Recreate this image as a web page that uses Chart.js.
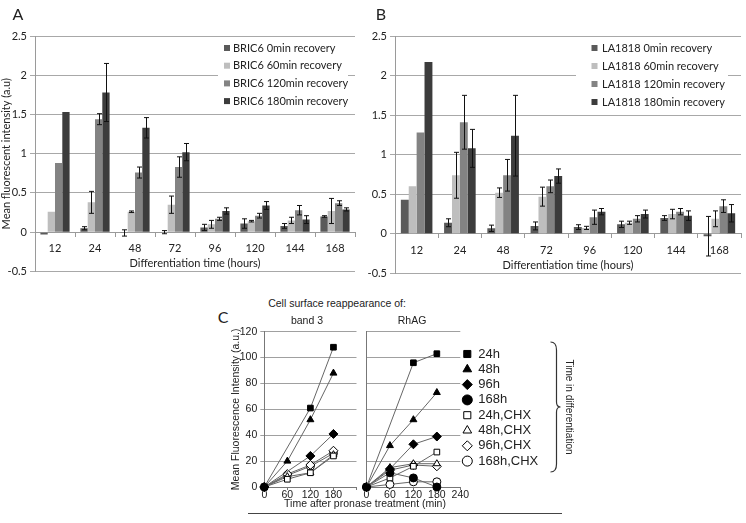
<!DOCTYPE html>
<html lang="en">
  <head>
    <meta charset="UTF-8" />
    <script src="https://cdn.jsdelivr.net/npm/chart.js"></script>
    <title>Surface reappearance</title>
    <style>
      body { margin: 0; background: #fff; width: 746px; height: 523px; position: relative; overflow: hidden; }
      .box { position: absolute; }
      .txt { position: absolute; white-space: nowrap; color: #222; transform: translate(-50%, -50%); line-height: 1; }
      .ab { font-family: Lato, sans-serif; font-size: 16px; }
      .c { font-family: "Liberation Sans", Arial, sans-serif; font-size: 10.5px; }
    </style>
  </head>
  <body>
    <div class="box" style="left:0;top:0;width:365px;height:281px"><canvas id="chartA"></canvas></div>
    <div class="box" style="left:365px;top:0;width:381px;height:283px"><canvas id="chartB"></canvas></div>
    <div class="box" style="left:230px;top:320px;width:132px;height:187px"><canvas id="chartC1"></canvas></div>
    <div class="box" style="left:360.7px;top:320px;width:215px;height:187px"><canvas id="chartC2"></canvas></div>

    <div class="txt ab" style="left:18px;top:14px">A</div>
    <div class="txt ab" style="left:381px;top:14px">B</div>
    <div class="txt ab" style="left:223px;top:317px">C</div>
    <div class="txt c" style="left:337px;top:303px">Cell surface reappearance of:</div>
    <div class="txt c" style="left:307px;top:320px">band 3</div>
    <div class="txt c" style="left:412px;top:320px">RhAG</div>
    <div class="txt c" style="left:365px;top:503px">Time after pronase treatment (min)</div>
    <div class="box" style="left:248px;top:513px;width:314px;height:0;border-top:1.5px solid #444"></div>

    <script>
      // panels A and B: differentiation time categories
      const categories = ["12", "24", "48", "72", "96", "120", "144", "168"];
      const recovery = ["0min", "60min", "120min", "180min"];

      const bric0 = [-0.03, 0.05, -0.01, 0.0, 0.06, 0.11, 0.08, 0.2];
      const bric60 = [0.26, 0.38, 0.26, 0.35, 0.1, 0.14, 0.15, 0.27];
      const bric120 = [0.88, 1.44, 0.76, 0.83, 0.17, 0.21, 0.28, 0.37];
      const bric180 = [1.53, 1.78, 1.33, 1.02, 0.27, 0.34, 0.16, 0.29];
      const bric0Err = [0, 0.02, 0.04, 0.02, 0.04, 0.06, 0.03, 0.01];
      const bric60Err = [0, 0.14, 0.01, 0.11, 0.05, 0.01, 0.04, 0.16];
      const bric120Err = [0, 0.07, 0.07, 0.13, 0.02, 0.03, 0.06, 0.03];
      const bric180Err = [0, 0.37, 0.13, 0.11, 0.04, 0.05, 0.05, 0.02];

      const la0 = [0.43, 0.14, 0.07, 0.1, 0.085, 0.12, 0.2, -0.03];
      const la60 = [0.6, 0.74, 0.52, 0.47, 0.075, 0.14, 0.25, 0.19];
      const la120 = [1.28, 1.41, 0.74, 0.6, 0.21, 0.19, 0.28, 0.35];
      const la180 = [2.17, 1.08, 1.24, 0.73, 0.28, 0.25, 0.23, 0.26];
      const la0Err = [0, 0.05, 0.04, 0.05, 0.03, 0.04, 0.03, 0.25];
      const la60Err = [0, 0.29, 0.06, 0.12, 0.02, 0.02, 0.06, 0.1];
      const la120Err = [0, 0.34, 0.2, 0.08, 0.09, 0.04, 0.04, 0.08];
      const la180Err = [0, 0.24, 0.51, 0.09, 0.04, 0.05, 0.06, 0.11];

      // panel C: minutes after pronase
      const cTimes = [0, 60, 120, 180];
      const cLabels = ["24h", "48h", "96h", "168h", "24h,CHX", "48h,CHX", "96h,CHX", "168h,CHX"];

      const band3_24h = [0, null, 61, 108];
      const band3_48h = [0, 20, 52, 88];
      const band3_96h = [0, null, 24, 41];
      const band3_168h = [null, null, null, null];
      const band3_24hCHX = [0, 6, 11, 24];
      const band3_48hCHX = [0, 8, 11, 25];
      const band3_96hCHX = [0, 10, 17, 28];
      const band3_168hCHX = [0, 9, 16, 26];

      const rhag_24h = [0, null, 96, 103];
      const rhag_48h = [0, 32, 52, 73];
      const rhag_96h = [0, 14, 33, 39];
      const rhag_168h = [0, 11, 7, 0];
      const rhag_24hCHX = [0, 7, 16, 27];
      const rhag_48hCHX = [0, 15, 18, 18];
      const rhag_96hCHX = [0, 13, 17, 16];
      const rhag_168hCHX = [0, 2, 4, 4];

      const barColors = ["#5a5a5a", "#bebebe", "#838383", "#3c3c3c"];
      const pointStyles = ["rect", "triangle", "rectRot", "circle", "rect", "triangle", "rectRot", "circle"];

      Chart.defaults.font.family = "Lato, sans-serif";
      Chart.defaults.color = "#222";
      Chart.defaults.animation = false;

      // error bars drawn from the y scale
      const errorBars = {
        id: "errorBars",
        afterDatasetsDraw(chart) {
          const ctx = chart.ctx;
          const y = chart.scales.y;
          chart.data.datasets.forEach((ds, di) => {
            if (!ds.errors) return;
            chart.getDatasetMeta(di).data.forEach((bar, i) => {
              const e = ds.errors[i];
              if (!e) return;
              const v = ds.data[i];
              const t = y.getPixelForValue(v + e);
              const b = y.getPixelForValue(v - e);
              const x = Math.round(bar.x) + 0.5;
              ctx.save();
              ctx.strokeStyle = "#111";
              ctx.lineWidth = 1;
              ctx.beginPath();
              ctx.moveTo(x, t); ctx.lineTo(x, b);
              ctx.moveTo(x - 2.5, t); ctx.lineTo(x + 2.5, t);
              ctx.moveTo(x - 2.5, b); ctx.lineTo(x + 2.5, b);
              ctx.stroke();
              ctx.restore();
            });
          });
        },
      };

      // legend in a white box, placed in canvas pixels
      const boxLegend = {
        id: "boxLegend",
        afterDatasetsDraw(chart, args, o) {
          if (!o || o.markX === undefined) return;
          const ctx = chart.ctx;
          ctx.save();
          if (o.w) {
            ctx.fillStyle = "#fff";
            ctx.fillRect(o.x, o.y, o.w, o.h);
          }
          ctx.font = o.font;
          ctx.textBaseline = "middle";
          chart.data.datasets.forEach((ds, i) => {
            const cy = o.rowY + i * o.rowH;
            if (o.kind === "bar") {
              ctx.fillStyle = ds.backgroundColor;
              ctx.fillRect(o.markX - 3, cy - 3, 6, 6);
            } else {
              ctx.fillStyle = ds.pointBackgroundColor;
              ctx.strokeStyle = "#000";
              ctx.lineWidth = 1;
              Chart.helpers.drawPoint(ctx, { pointStyle: ds.pointStyle, radius: o.radius, rotation: 0, borderWidth: 1 }, o.markX, cy);
            }
            ctx.fillStyle = "#222";
            ctx.fillText(ds.label, o.textX, cy);
          });
          ctx.restore();
        },
      };

      // brace + rotated caption next to the C legend
      const brace = {
        id: "brace",
        afterDraw(chart, args, o) {
          if (!o || o.x === undefined) return;
          const ctx = chart.ctx;
          const { x, top, bottom } = o;
          const mid = (top + bottom) / 2;
          ctx.save();
          ctx.strokeStyle = "#333";
          ctx.lineWidth = 1.2;
          ctx.beginPath();
          ctx.moveTo(x, top);
          ctx.quadraticCurveTo(x + 6, top, x + 6, top + 8);
          ctx.lineTo(x + 6, mid - 5);
          ctx.quadraticCurveTo(x + 6, mid, x + 10, mid);
          ctx.quadraticCurveTo(x + 6, mid, x + 6, mid + 5);
          ctx.lineTo(x + 6, bottom - 8);
          ctx.quadraticCurveTo(x + 6, bottom, x, bottom);
          ctx.stroke();
          ctx.translate(o.textX, mid);
          ctx.rotate(Math.PI / 2);
          ctx.font = o.font;
          ctx.fillStyle = "#222";
          ctx.textAlign = "center";
          ctx.textBaseline = "middle";
          ctx.fillText(o.text, 0, 0);
          ctx.restore();
        },
      };

      function makeBars(id, prefix, sets, errs, o) {
        return new Chart(document.getElementById(id), {
          type: "bar",
          data: {
            labels: categories,
            datasets: sets.map((d, i) => ({
              label: prefix + " " + recovery[i] + " recovery",
              data: d,
              errors: errs[i],
              backgroundColor: barColors[i],
              categoryPercentage: 0.73,
              barPercentage: 1,
            })),
          },
          options: {
            responsive: true,
            maintainAspectRatio: false,
            layout: { padding: { top: 36, left: 0, right: o.padRight, bottom: 0 } },
            plugins: { legend: { display: false }, tooltip: { enabled: false }, boxLegend: o.legend },
            scales: {
              x: {
                position: { y: 0 },
                grid: { drawOnChartArea: false, tickLength: 4, color: "#9a9a9a" },
                border: { color: "#9a9a9a" },
                ticks: { padding: 6, font: { size: 11 } },
                title: { display: true, text: "Differentiation time (hours)", padding: 0, font: { size: 11 } },
                afterFit: (s) => { s.height = 38; },
              },
              y: {
                min: -0.5,
                max: 2.5,
                ticks: { stepSize: 0.5, padding: 3, font: { size: 11 }, callback: (v) => String(Math.round(v * 10) / 10) },
                grid: { color: "#a8a8a8", tickLength: 5 },
                border: { color: "#9a9a9a" },
                title: { display: !!o.yTitle, text: o.yTitle || "", padding: 0, font: { size: 11 } },
                afterFit: (s) => { s.width = o.yWidth; },
              },
            },
          },
          plugins: [errorBars, boxLegend],
        });
      }

      makeBars("chartA", "BRIC6", [bric0, bric60, bric120, bric180], [bric0Err, bric60Err, bric120Err, bric180Err], {
        padRight: 10,
        yWidth: 35,
        yTitle: "Mean fluorescent intensity (a.u)",
        legend: { kind: "bar", x: 218, y: 40, w: 130, h: 70, markX: 227, textX: 233, rowY: 48, rowH: 17.7, font: "11px Lato" },
      });

      makeBars("chartB", "LA1818", [la0, la60, la120, la180], [la0Err, la60Err, la120Err, la180Err], {
        padRight: 5,
        yWidth: 30,
        legend: { kind: "bar", x: 211, y: 40, w: 152, h: 70, markX: 229.5, textX: 237, rowY: 48, rowH: 18, font: "11px Lato" },
      });

      function makeLines(id, sets, o) {
        return new Chart(document.getElementById(id), {
          type: "line",
          data: {
            datasets: sets.map((d, i) => ({
              label: cLabels[i],
              data: cTimes.map((t, j) => ({ x: t, y: d[j] })),
              borderColor: "#666",
              borderWidth: 1,
              pointStyle: pointStyles[i],
              pointRadius: pointStyles[i] === "rectRot" ? 4.5 : 4,
              pointBorderColor: "#000",
              pointBorderWidth: 1,
              pointBackgroundColor: i < 4 ? "#000" : "#fff",
              spanGaps: true,
              clip: false,
              tension: 0,
            })),
          },
          options: {
            responsive: true,
            maintainAspectRatio: false,
            layout: { padding: { top: 11.7, left: 0, right: o.padRight, bottom: 0 } },
            plugins: { legend: { display: false }, tooltip: { enabled: false }, boxLegend: o.legend || {}, brace: o.brace || {} },
            scales: {
              x: {
                type: "linear",
                min: 0,
                max: 240,
                grid: { drawOnChartArea: false, tickLength: 3, color: "#777" },
                border: { color: "#777" },
                ticks: {
                  stepSize: 60,
                  padding: -1,
                  maxRotation: 0,
                  autoSkip: false,
                  font: { family: "Liberation Sans", size: 10.5 },
                  callback: (v) => (o.hideLast && v === 240 ? "" : v),
                },
                afterFit: (s) => { s.height = 20; },
              },
              y: {
                min: 0,
                max: 120,
                ticks: { display: o.yLabels, stepSize: 20, padding: 3, font: { family: "Liberation Sans", size: 10.5 } },
                grid: { color: "#a0a0a0", drawTicks: o.yLabels, tickLength: 4 },
                border: { color: "#777" },
                title: {
                  display: o.yLabels,
                  text: "Mean Fluorescence Intensity (a.u.)",
                  padding: 0,
                  font: { family: "Liberation Sans", size: 10.5 },
                },
                afterFit: (s) => { s.width = o.yWidth; },
              },
            },
          },
          plugins: [boxLegend, brace],
        });
      }

      makeLines(
        "chartC1",
        [band3_24h, band3_48h, band3_96h, band3_168h, band3_24hCHX, band3_48hCHX, band3_96hCHX, band3_168hCHX],
        { padRight: 0, yWidth: 34.3, yLabels: true, hideLast: true }
      );

      makeLines(
        "chartC2",
        [rhag_24h, rhag_48h, rhag_96h, rhag_168h, rhag_24hCHX, rhag_48hCHX, rhag_96hCHX, rhag_168hCHX],
        {
          padRight: 115.7,
          yWidth: 1,
          yLabels: false,
          hideLast: false,
          legend: { kind: "point", markX: 106.3, textX: 117.3, rowY: 34, rowH: 15.3, radius: 5, font: "13px 'Liberation Sans'" },
          brace: { x: 189.5, top: 22, bottom: 152, textX: 207.5, text: "Time in differentiation", font: "10px 'Liberation Sans'" },
        }
      );
    </script>
  </body>
</html>
